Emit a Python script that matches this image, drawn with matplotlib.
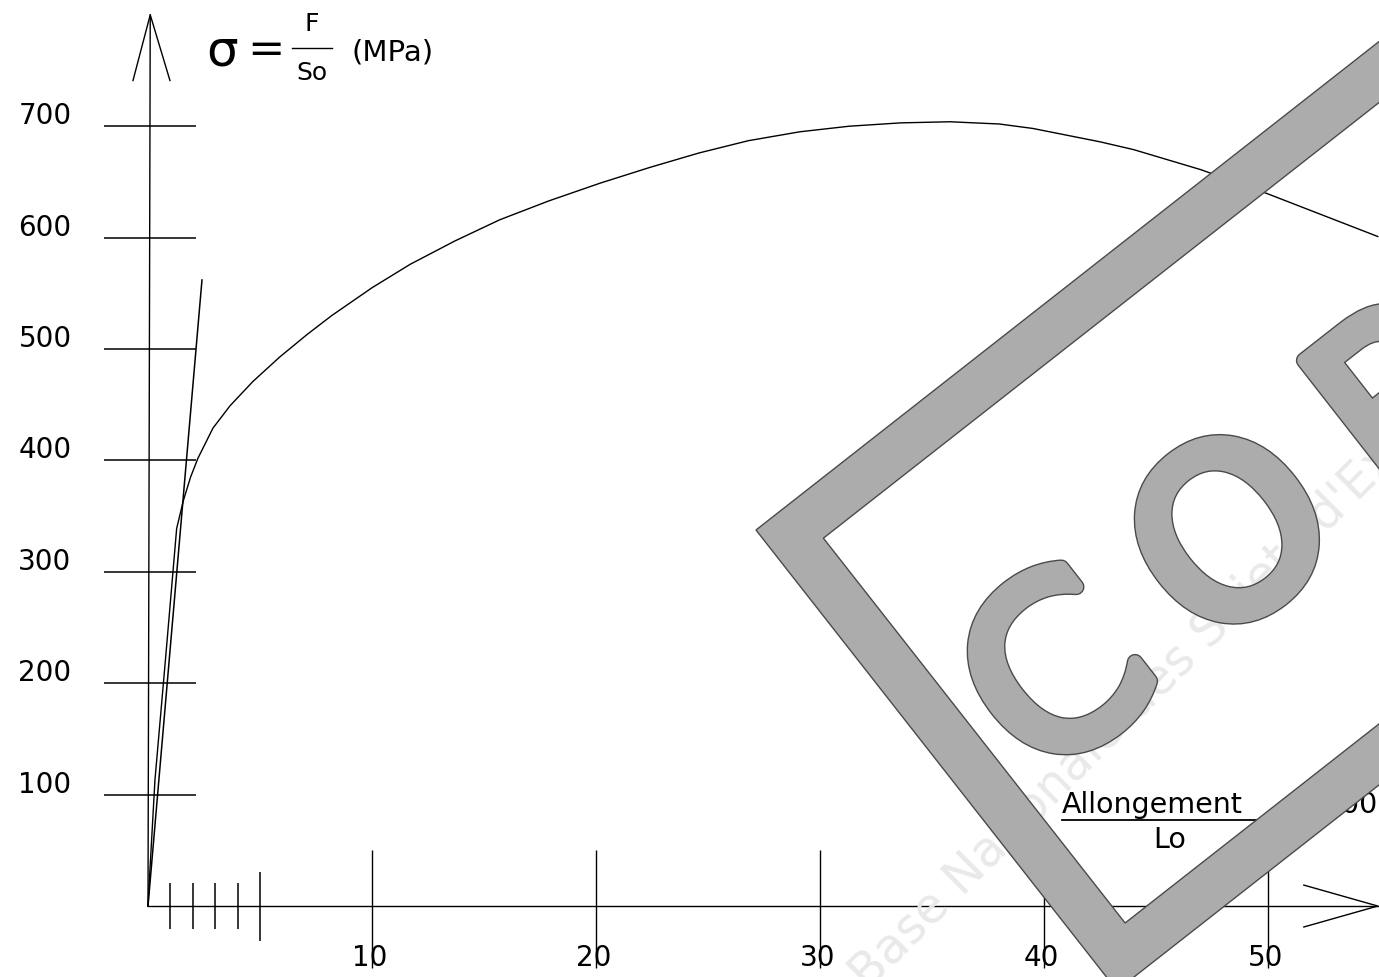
import matplotlib.pyplot as plt
from matplotlib.path import Path
from matplotlib.patches import PathPatch
import matplotlib.patheffects as pe
import numpy as np

# courbe de traction : allongement (%) / contrainte (MPa)
allong = [0, 0.08, 0.31, 0.8, 1.28, 1.58, 1.9, 2.23, 2.9, 3.66, 4.69, 5.89, 7.1, 8.2,
          10.0, 11.7, 13.7, 15.7, 17.9, 20.2, 22.4, 24.6, 26.8, 29.1, 31.3, 33.6, 35.8,
          38.0, 39.5, 41.0, 42.5, 44.0, 45.5, 47.0, 49.9, 54.9]
sigma = [0, 30, 113, 226, 339, 364, 385, 402, 429, 449, 471, 493, 513, 530,
         555, 576, 597, 616, 633, 649, 663, 676, 687, 695, 700, 703, 704,
         702, 698, 692, 686, 679, 670, 661, 640, 601]

# droite de la zone elastique
droite_x = [0, 2.41]
droite_s = [0, 562]

y_ticks = [100, 200, 300, 400, 500, 600, 700]
x_ticks = [10, 20, 30, 40, 50]
petits_ticks = [1, 2, 3, 4, 5]

plt.rcParams['font.family'] = ['DejaVu Sans']

fig = plt.figure(figsize=(13.79, 9.77), dpi=100)
ax = fig.add_axes([0, 0, 1, 1])
ax.set_xlim(-6.607, 54.955)
ax.set_ylim(-63.7, 813.3)
ax.axis('off')

lc = 'black'
# axes avec fleches
ax.plot([0, 54.9], [0, 0], color=lc, lw=1.0)
ax.plot([51.6, 54.9, 51.6], [18.8, 0, -18.8], color=lc, lw=1.0)
ax.plot([0, 0.1], [0, 800], color=lc, lw=1.0)
ax.plot([-0.67, 0.1, 0.98], [741, 800, 741], color=lc, lw=1.0)

# graduations
ax.hlines(y_ticks, -1.95, 2.15, color=lc, lw=1.1)
ax.vlines(x_ticks, -56, 50, color=lc, lw=1.0)
ax.vlines(petits_ticks[:-1], -20.6, 20.6, color=lc, lw=1.1)
ax.vlines(petits_ticks[-1:], -31, 31, color=lc, lw=1.1)

for v in y_ticks:
    ax.text(-4.6, v + 9, str(v), fontsize=20, ha='center', va='center')
for v in x_ticks:
    ax.text(v - 0.1, -47, str(v), fontsize=20, ha='center', va='center')

# courbes
ax.plot(droite_x, droite_s, color=lc, lw=1.1)
ax.plot(allong, sigma, color=lc, lw=1.0)

# titre axe y
ax.text(0.161, 0.947, 'σ', transform=ax.transAxes, fontsize=36, ha='center', va='center')
ax.text(0.193, 0.948, '=', transform=ax.transAxes, fontsize=32, ha='center', va='center')
ax.text(0.226, 0.975, 'F', transform=ax.transAxes, fontsize=18, ha='center', va='center')
ax.plot([0.212, 0.241], [0.951, 0.951], transform=ax.transAxes, color=lc, lw=1.0)
ax.text(0.226, 0.925, 'So', transform=ax.transAxes, fontsize=18, ha='center', va='center')
ax.text(0.285, 0.946, '(MPa)', transform=ax.transAxes, fontsize=21, ha='center', va='center')

# titre axe x
ax.text(0.770, 0.176, 'Allongement', transform=ax.transAxes, fontsize=20.5, ha='left', va='center')
ax.plot([0.770, 0.915], [0.161, 0.161], transform=ax.transAxes, color=lc, lw=1.3)
ax.text(0.848, 0.140, 'Lo', transform=ax.transAxes, fontsize=20.5, ha='center', va='center')
ax.text(0.999, 0.176, 'x 100', transform=ax.transAxes, fontsize=20.5, ha='right', va='center')

# tampon "CORRIGE" par dessus (coordonnees pixels)
ov = fig.add_axes([0, 0, 1, 1])
ov.set_xlim(0, 1379)
ov.set_ylim(977, 0)
ov.axis('off')
ov.patch.set_alpha(0)

ov.text(868, 992, "Base Nationale des Sujets d'Examens de l'enseignement professionnel",
        fontsize=35, color='#e9e9e9', rotation=45, rotation_mode='anchor',
        ha='left', va='baseline', zorder=1)

gris, bord = '#acacac', '#4a4a4a'
A = np.array([756.0, 530.0])
u = np.array([0.787, -0.617])
v = np.array([0.617, 0.787])
w = 48
long_cote, court_cote = 1200, 585
outer = [A, A + long_cote * u, A + long_cote * u + court_cote * v, A + court_cote * v]
B = A + w * u + w * v
inner = [B, B + (court_cote - 2 * w) * v,
         B + (long_cote - 2 * w) * u + (court_cote - 2 * w) * v,
         B + (long_cote - 2 * w) * u]
verts = outer + [outer[0]] + inner + [inner[0]]
codes = ([Path.MOVETO] + [Path.LINETO] * 3 + [Path.CLOSEPOLY]) * 2
ov.add_patch(PathPatch(Path(verts, codes), facecolor=gris, edgecolor=bord,
                       lw=1.0, zorder=3))

effets = [pe.Stroke(linewidth=12, foreground=bord), pe.Stroke(linewidth=10, foreground=gris),
          pe.Normal()]
centre = np.array([1064.0, 683.0])
for i, lettre in enumerate('CORRIGÉ'):
    x, y = centre + i * 223 * u
    t = ov.text(x, y, lettre, fontsize=168, color=gris, rotation=38,
                rotation_mode='anchor', ha='center', va='center', zorder=3)
    t.set_path_effects(effets)

fig.savefig('out.png', dpi=100)
